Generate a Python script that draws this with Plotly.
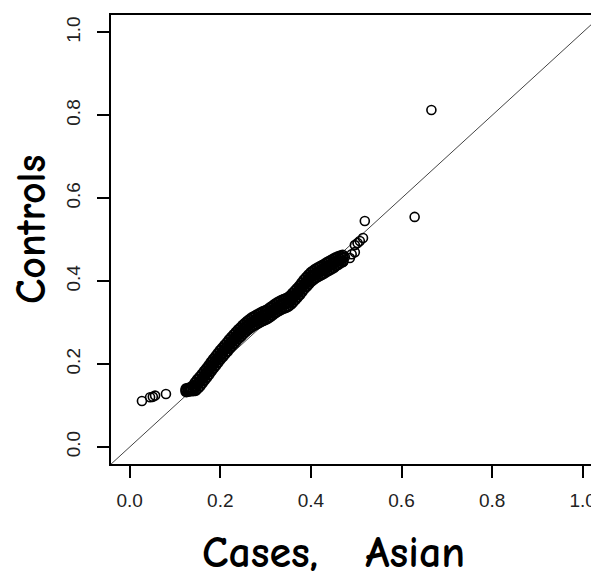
import plotly.graph_objects as go

# Low-end outliers (cases, controls)
low_x = [0.027, 0.045, 0.051, 0.056, 0.080]
low_y = [0.111, 0.120, 0.121, 0.124, 0.128]

# Dense main band: case quantiles with lower / middle / upper control quantiles
band_x = [0.125, 0.130, 0.135, 0.140, 0.145, 0.150, 0.155, 0.160, 0.165, 0.170,
          0.175, 0.180, 0.185, 0.190, 0.195, 0.200, 0.205, 0.210, 0.215, 0.220,
          0.225, 0.230, 0.235, 0.240, 0.245, 0.250, 0.255, 0.260, 0.265, 0.270,
          0.275, 0.280, 0.285, 0.290, 0.295, 0.300, 0.305, 0.310, 0.315, 0.320,
          0.325, 0.330, 0.335, 0.340, 0.345, 0.350, 0.355, 0.360, 0.365, 0.370,
          0.375, 0.380, 0.385, 0.390, 0.395, 0.400, 0.405, 0.410, 0.415, 0.420,
          0.425, 0.430, 0.435, 0.440, 0.445, 0.450, 0.455, 0.460, 0.465, 0.470]
band_y_mid = [0.137, 0.138, 0.139, 0.141, 0.146, 0.152, 0.158, 0.165, 0.172, 0.179,
              0.186, 0.194, 0.201, 0.208, 0.215, 0.222, 0.228, 0.235, 0.241, 0.248,
              0.254, 0.260, 0.266, 0.272, 0.277, 0.283, 0.288, 0.293, 0.297, 0.301,
              0.304, 0.307, 0.310, 0.313, 0.316, 0.318, 0.321, 0.325, 0.329, 0.333,
              0.337, 0.340, 0.343, 0.345, 0.347, 0.350, 0.354, 0.360, 0.366, 0.372,
              0.378, 0.385, 0.392, 0.398, 0.404, 0.410, 0.414, 0.418, 0.421, 0.424,
              0.427, 0.430, 0.434, 0.437, 0.440, 0.443, 0.447, 0.450, 0.453, 0.456]
band_y_low = [0.134, 0.135, 0.136, 0.136, 0.137, 0.142, 0.148, 0.155, 0.162, 0.169,
              0.176, 0.184, 0.191, 0.198, 0.205, 0.212, 0.218, 0.225, 0.231, 0.238,
              0.244, 0.250, 0.256, 0.262, 0.267, 0.273, 0.278, 0.283, 0.287, 0.291,
              0.294, 0.297, 0.300, 0.303, 0.306, 0.308, 0.311, 0.315, 0.319, 0.323,
              0.327, 0.330, 0.333, 0.335, 0.337, 0.340, 0.344, 0.350, 0.356, 0.362,
              0.368, 0.375, 0.382, 0.388, 0.394, 0.400, 0.404, 0.408, 0.411, 0.414,
              0.417, 0.420, 0.424, 0.427, 0.430, 0.433, 0.438, 0.441, 0.445, 0.448]
band_y_high = [0.140, 0.141, 0.143, 0.147, 0.155, 0.162, 0.168, 0.175, 0.182, 0.189,
               0.196, 0.204, 0.211, 0.218, 0.225, 0.232, 0.238, 0.245, 0.251, 0.258,
               0.264, 0.270, 0.276, 0.282, 0.287, 0.293, 0.298, 0.303, 0.307, 0.311,
               0.314, 0.317, 0.320, 0.323, 0.326, 0.328, 0.331, 0.335, 0.339, 0.343,
               0.347, 0.350, 0.353, 0.355, 0.357, 0.360, 0.364, 0.370, 0.376, 0.382,
               0.388, 0.395, 0.402, 0.408, 0.414, 0.420, 0.424, 0.428, 0.431, 0.434,
               0.437, 0.440, 0.444, 0.447, 0.450, 0.453, 0.456, 0.458, 0.460, 0.462]

# Upper tail and outliers
tail_x = [0.471, 0.475, 0.486, 0.490, 0.497, 0.497, 0.503, 0.508, 0.515, 0.519, 0.629, 0.666]
tail_y = [0.446, 0.458, 0.456, 0.465, 0.470, 0.487, 0.492, 0.497, 0.504, 0.545, 0.555, 0.813]

# Reference line y = x
ref_line = [-0.1, 1.2]

tick_vals = [0.0, 0.2, 0.4, 0.6, 0.8, 1.0]
tick_text = ["0.0", "0.2", "0.4", "0.6", "0.8", "1.0"]

x_label = "Cases,   Asian"
y_label = "Controls"

marker = dict(symbol="circle-open", size=9, color="black", line=dict(width=1.6, color="black"))
band_marker = dict(symbol="circle-open", size=10, color="black", line=dict(width=2, color="black"))

fig = go.Figure()
fig.add_trace(go.Scatter(x=ref_line, y=ref_line, mode="lines",
                         line=dict(color="#444444", width=1), hoverinfo="skip"))
fig.add_trace(go.Scatter(x=low_x, y=low_y, mode="markers", marker=marker))
fig.add_trace(go.Scatter(x=band_x, y=band_y_low, mode="markers", marker=band_marker))
fig.add_trace(go.Scatter(x=band_x, y=band_y_mid, mode="markers", marker=band_marker))
fig.add_trace(go.Scatter(x=band_x, y=band_y_high, mode="markers", marker=band_marker))
fig.add_trace(go.Scatter(x=tail_x, y=tail_y, mode="markers", marker=marker))

tick_font = dict(family="Liberation Sans, Arial, sans-serif", size=19, color="#222222")
ytitle_font = dict(family="Comic Sans MS, Comic Neue, Lato, sans-serif", size=42, color="black")
xtitle_font = dict(family="Comic Sans MS, Comic Neue, Lato, sans-serif", size=44, color="black")

# The page body has an 8px margin, so the figure is sized to fit the 599x578 window.
fig.update_layout(
    width=591, height=570,
    margin=dict(l=103, r=0, t=7, b=114, autoexpand=False),
    paper_bgcolor="white", plot_bgcolor="white",
    showlegend=False,
    xaxis=dict(range=[-0.0413, 1.036], tickvals=tick_vals, ticktext=tick_text,
               showgrid=False, zeroline=False, showline=True, linecolor="black",
               linewidth=1.5, mirror=True, ticks="outside", ticklen=12,
               tickcolor="black", tickwidth=1.5, tickfont=tick_font,
               ticklabelstandoff=6, ticklabeloverflow="allow", automargin=False),
    yaxis=dict(range=[-0.041, 1.042], tickvals=tick_vals, ticktext=tick_text,
               showgrid=False, zeroline=False, showline=True, linecolor="black",
               linewidth=1.5, mirror=False, ticks="outside", ticklen=12,
               tickcolor="black", tickwidth=1.5, tickfont=tick_font,
               tickangle=-90, ticklabelstandoff=10, ticklabeloverflow="allow",
               automargin=False),
    annotations=[
        dict(text="<b>" + x_label + "</b>", xref="paper", yref="paper",
             x=(333 - 111) / 488, y=-(552 - 464) / 449, xanchor="center", yanchor="middle",
             showarrow=False, font=xtitle_font),
        dict(text="<b>" + y_label + "</b>", xref="paper", yref="paper",
             x=-(111 - 31) / 488, y=(464 - 230) / 449, xanchor="center", yanchor="middle",
             textangle=-90, showarrow=False, font=ytitle_font),
    ],
)

fig.write_html("out.html")
